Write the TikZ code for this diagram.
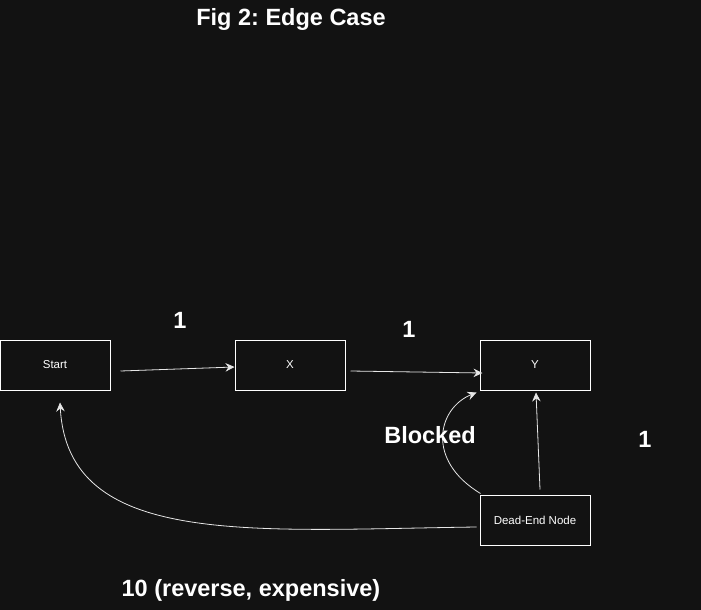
\documentclass[tikz,border=0pt]{standalone}
\usepackage{fontspec}
\setmainfont{Liberation Sans}
\usetikzlibrary{arrows.meta,calc}
\definecolor{bgdark}{HTML}{121212}
\definecolor{edgegray}{HTML}{E6E6E6}
\frenchspacing
\begin{document}
\begin{tikzpicture}[x=1pt, y=-1pt,
    box/.style={rectangle, draw=white, line width=1pt, minimum width=110pt,
                minimum height=50pt, inner sep=0pt, text=white,
                font=\fontsize{11.5}{14}\selectfont},
    wlbl/.style={text=white, inner sep=0pt, font=\bfseries\fontsize{23.5}{28}\selectfont},
    arr/.style={-{Stealth[length=9pt, width=8.5pt, inset=3pt]}, draw=edgegray, line width=0.8pt},
  ]

  % background and page size
  \fill[bgdark] (0,0) rectangle (701,610);
  \useasboundingbox (0,0) rectangle (701,610);

  % === Title ===
  \node[wlbl] (title) at (291,19) {Fig 2: Edge Case};

  % === Nodes ===
  \node[box] (start) at (55,365) {Start};
  \node[box] (nx) at (290,365) {X};
  \node[box] (ny) at (535,365) {Y};
  \node[box] (dead) at (535,520) {Dead-End Node};

  % === Edges ===
  \draw[arr] ($(start.east)+(10,6)$) -- ($(nx.west)+(0,2)$);
  \draw[arr] ($(nx.east)+(5,6)$) -- ($(ny.west)+(3,8)$);
  \draw[arr] ($(dead.north)+(5,-5)$) -- ($(ny.south)+(1,2)$);
  \draw[arr] ($(dead.north west)+(1,-1)$) .. controls (425,460) and (438,408) .. ($(ny.south west)+(-3,2)$);
  \draw[arr] ($(dead.west)+(-3,7)$) .. controls (250,530) and (68,548) .. ($(start.south)+(5,12)$);

  % === Edge labels ===
  \node[wlbl] (w1) at (180,320) {1};
  \node[wlbl] (w2) at (409,329) {1};
  \node[wlbl] (wblk) at (430,435) {Blocked};
  \node[wlbl] (w3) at (645,439) {1};
  \node[wlbl] (w10) at (251,590) {10 (reverse, expensive)};

\end{tikzpicture}
\end{document}
